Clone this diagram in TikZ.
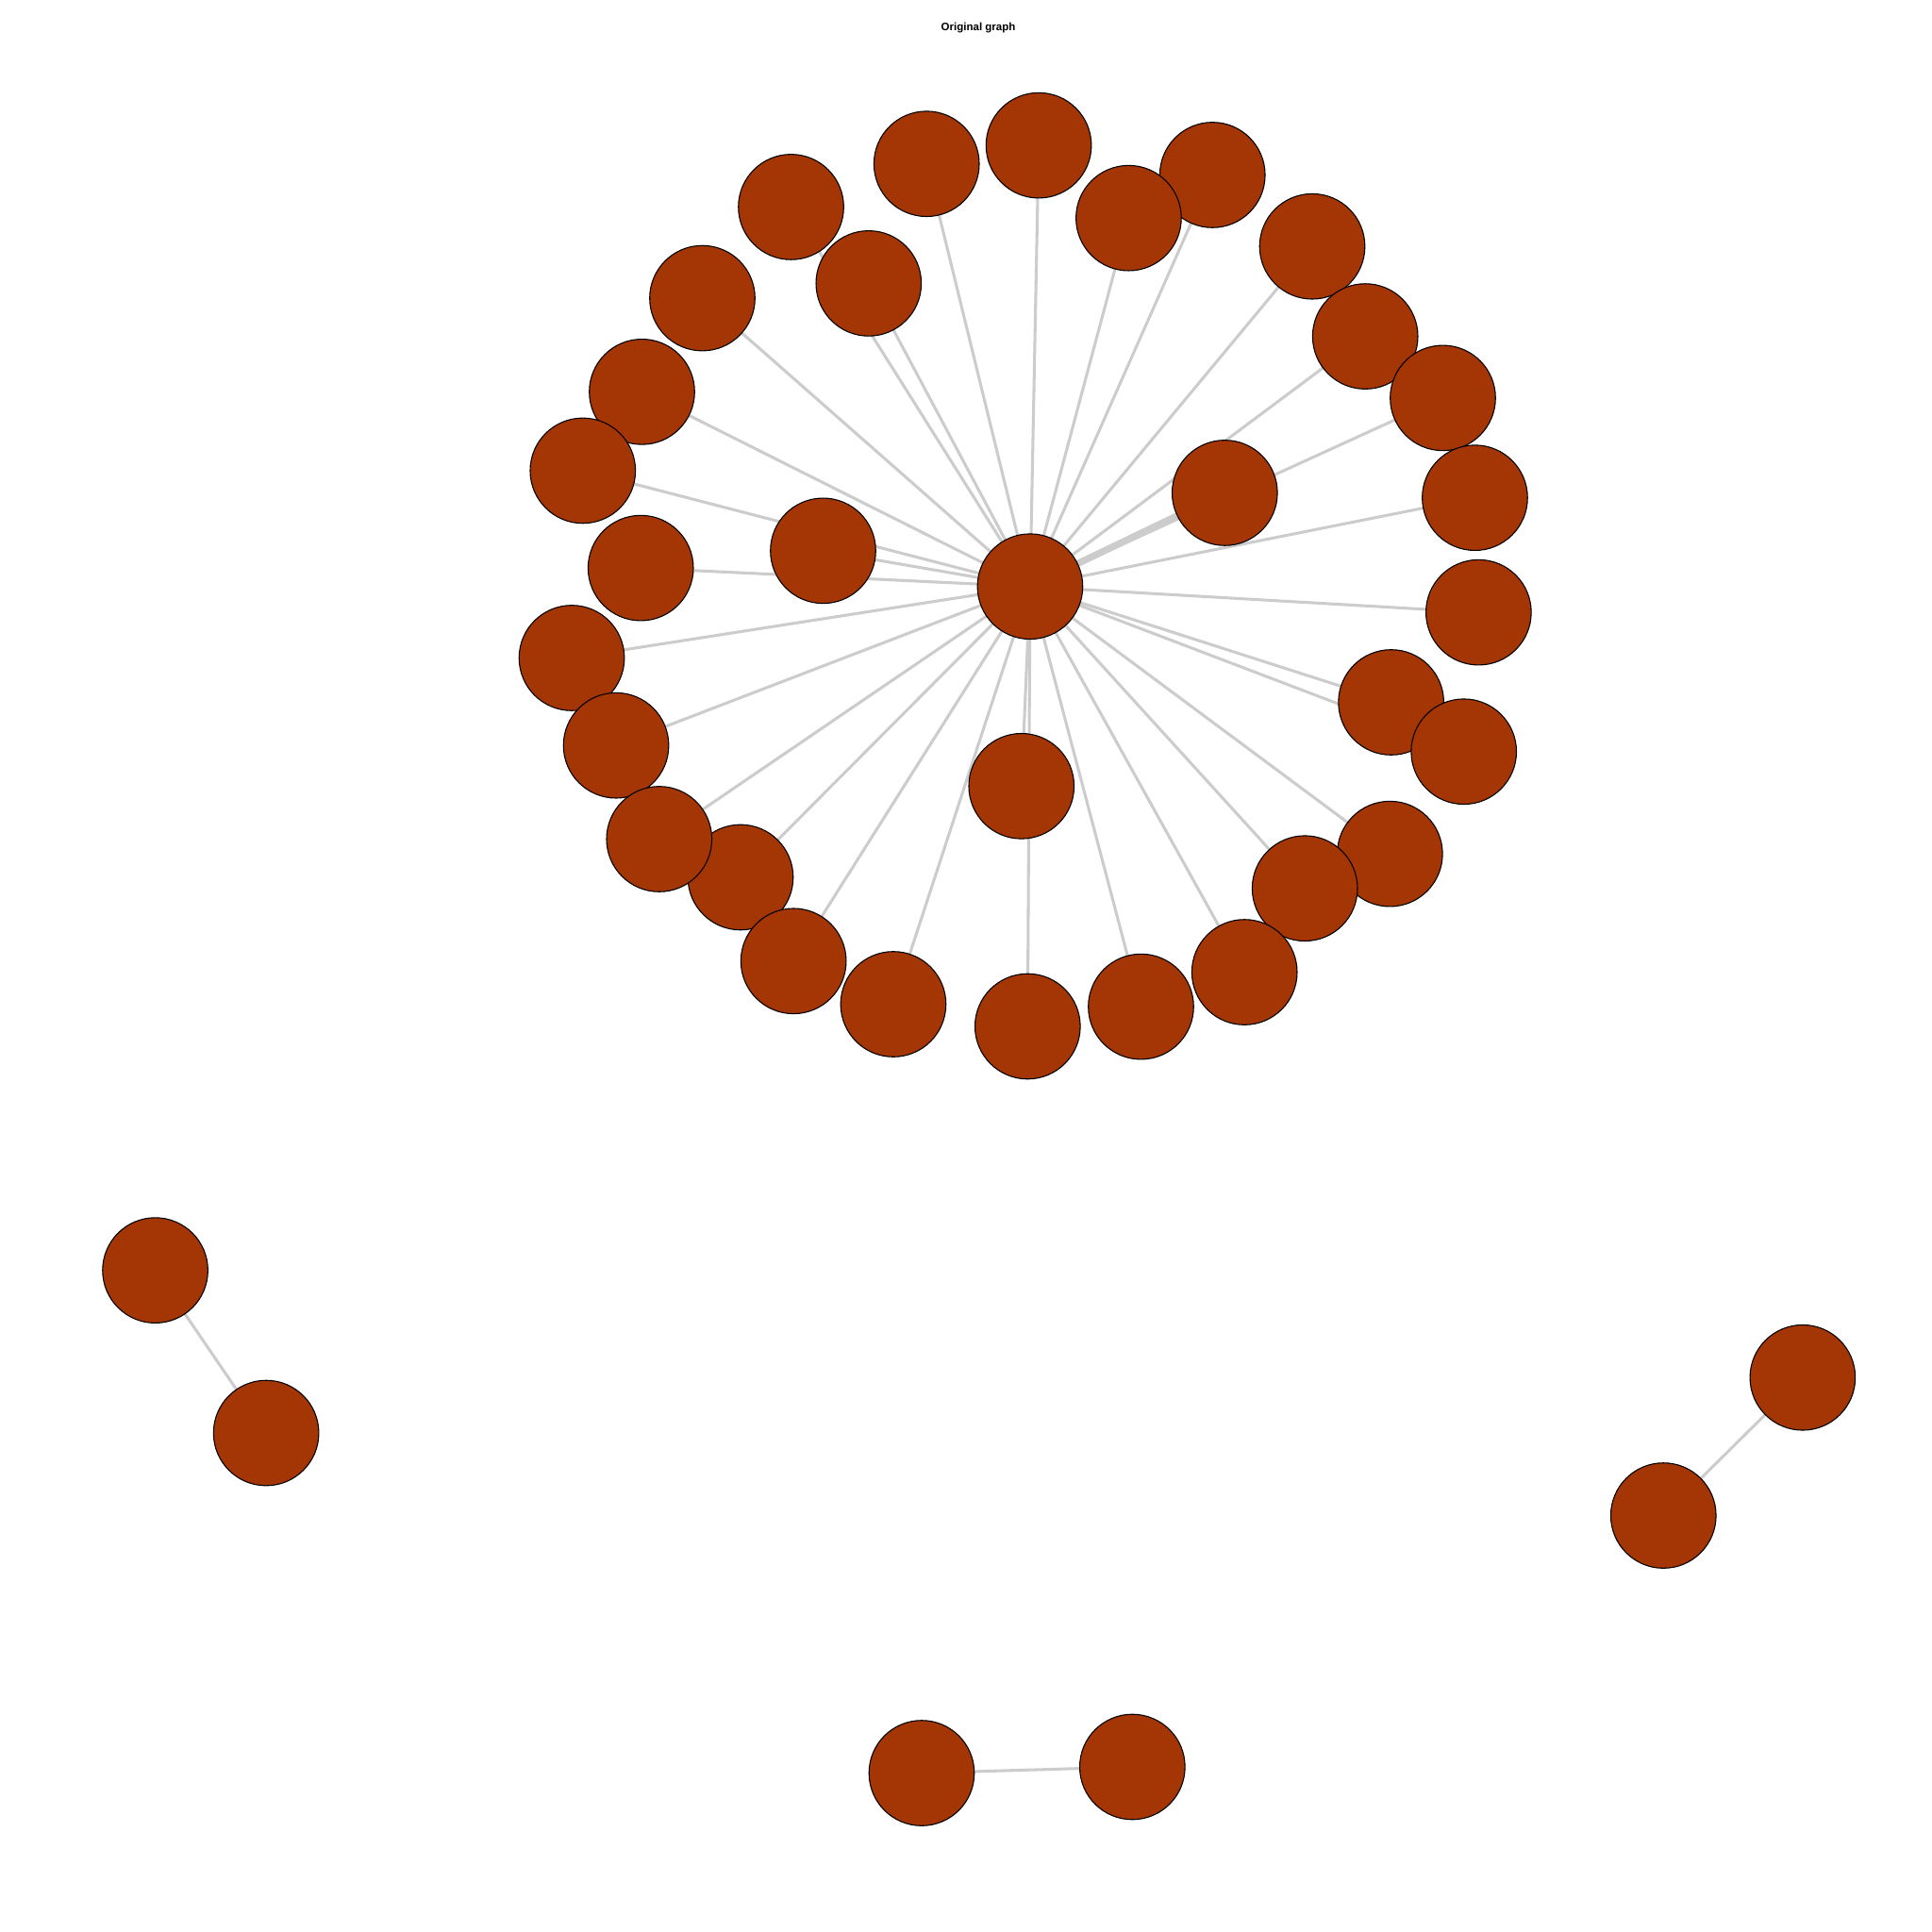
\documentclass[tikz,border=0pt]{standalone}
\usepackage{fontspec}
\setmainfont{Liberation Sans}
\definecolor{vfill}{HTML}{A43504}
\definecolor{efill}{HTML}{CCCCCC}
\begin{document}
\begin{tikzpicture}[x=0.012755cm,y=-0.012755cm,
  vert/.style={circle,draw=black,line width=0.3pt,fill=vfill,minimum size=1.09cm,inner sep=0pt},
  edge/.style={draw=efill,line width=0.85pt},
  thickedge/.style={draw=efill,line width=2pt}]
\useasboundingbox[fill=white] (0,0) rectangle (1568,1568);
\node[font=\bfseries\fontsize{3.2}{4}\selectfont] (title) at (794,23) {Original graph};
% edges first (coordinates), then nodes on top
\coordinate (c) at (836,476);
\foreach \i/\x/\y in {1/843/118,2/752/133,3/984/142,4/642/168,5/916/177,6/1065/200,7/705/230,8/570/242,9/1108/273,10/521/318,11/1171/323,12/473/382,13/994/400,14/1197/404,15/668/447,16/520/461,17/1200/497,18/464/534,19/1129/570,20/500/605,21/1188/610,22/829/638,23/535/681,24/1128/693,25/601/712,26/1059/721,27/644/780,28/1010/789,29/725/815,30/926/817,31/834/833}
  {\coordinate (p\i) at (\x,\y);}
\foreach \i in {1,...,12,14,15,...,31} {\draw[edge] (c) -- (p\i);}
\draw[thickedge] (c) -- (p13);
\coordinate (a1) at (126,1031); \coordinate (a2) at (216,1163);
\coordinate (b1) at (1463,1118); \coordinate (b2) at (1350,1230);
\coordinate (d1) at (748,1439); \coordinate (d2) at (919,1434);
\draw[edge] (a1) -- (a2);
\draw[edge] (b1) -- (b2);
\draw[edge] (d1) -- (d2);
% vertices (order sets overlaps)
\foreach \i in {1,...,22,25,24,23,26,27,...,31} {\node[vert] (n\i) at (p\i) {};}
\node[vert] (nc) at (c) {};
\foreach \k in {a1,a2,b1,b2,d1,d2} {\node[vert] (n\k) at (\k) {};}
\end{tikzpicture}
\end{document}
